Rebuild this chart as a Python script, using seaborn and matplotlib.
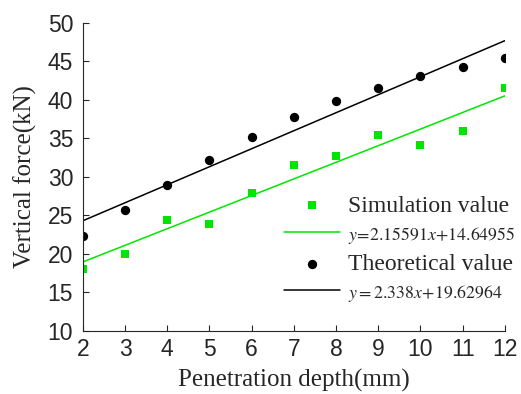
import numpy as np
import pandas as pd
import matplotlib
matplotlib.use('Agg')
import matplotlib.pyplot as plt
import seaborn as sns

# penetration depth (mm)
depth = [2, 3, 4, 5, 6, 7, 8, 9, 10, 11, 12]
# vertical force (kN)
simulation = [18.0, 20.0, 24.4, 23.9, 27.9, 31.5, 32.7, 35.5, 34.1, 36.0, 41.6]
theoretical = [22.3, 25.7, 29.0, 32.2, 35.2, 37.75, 39.9, 41.6, 43.1, 44.3, 45.5]
# linear fits printed in the legend
sim_fit = (2.15591, 14.64955)
theo_fit = (2.338, 19.62964)

df = pd.DataFrame({'depth': depth, 'sim': simulation, 'theo': theoretical})
df['sim_fit'] = sim_fit[0] * df['depth'] + sim_fit[1]
df['theo_fit'] = theo_fit[0] * df['depth'] + theo_fit[1]

sns.set_style('ticks')
plt.rcParams['mathtext.fontset'] = 'stix'
green = '#00e600'

fig = plt.figure(figsize=(5.21, 3.94), dpi=100)
ax = fig.add_axes([0.159, 0.160, 0.810, 0.782])

sns.scatterplot(x='depth', y='sim', data=df, ax=ax, marker='s', color=green,
                s=32, linewidth=0, label='Simulation value')
sns.lineplot(x='depth', y='sim_fit', data=df, ax=ax, color=green, linewidth=1.1,
             label=r'$y\!=\!2.15591x\!+\!14.64955$')
sns.scatterplot(x='depth', y='theo', data=df, ax=ax, marker='o', color='black',
                s=45, linewidth=0, label='Theoretical value')
sns.lineplot(x='depth', y='theo_fit', data=df, ax=ax, color='black', linewidth=1.1,
             label=r'$y = 2.338x\!+\!19.62964$')

ax.set_xlim(2, 12)
ax.set_ylim(10, 50)
ax.set_xticks(range(2, 13))
ax.set_yticks(range(10, 51, 5))
sns.despine(ax=ax)
ax.tick_params(direction='in', length=4, width=0.8, labelsize=16.5)
ax.tick_params(axis='x', pad=5)
ax.tick_params(axis='y', pad=7)
for t in ax.get_xticklabels() + ax.get_yticklabels():
    t.set_fontfamily('Liberation Sans')
ax.set_xlabel('Penetration depth(mm)', fontsize=18, fontfamily='Liberation Serif', labelpad=6)
ax.set_ylabel('Vertical force(kN)', fontsize=18, fontfamily='Liberation Serif', labelpad=8)

handles, labels = ax.get_legend_handles_labels()
leg = ax.legend(handles, labels, frameon=False, loc='upper left',
                bbox_to_anchor=(0.546, 0.505), bbox_transform=fig.transFigure,
                prop={'family': 'Liberation Serif', 'size': 17},
                handlelength=2.35, handletextpad=0.35, labelspacing=0.3,
                borderaxespad=0, borderpad=0)
for i in (1, 3):
    leg.get_texts()[i].set_fontsize(12.8)

fig.savefig('out.png', dpi=100)
